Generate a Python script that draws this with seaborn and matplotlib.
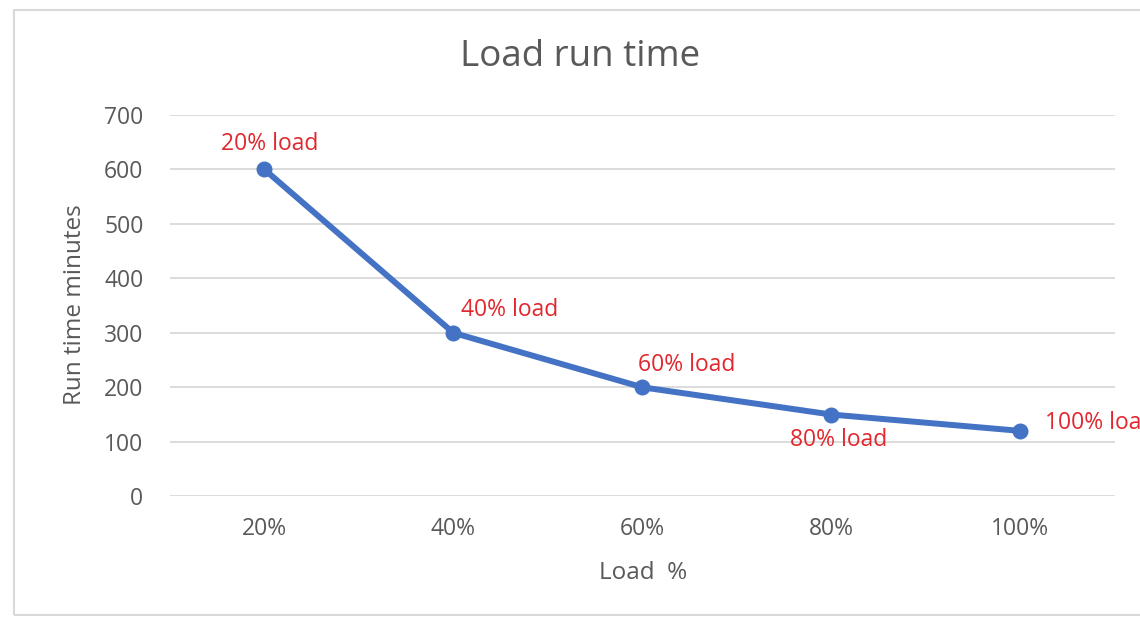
import numpy as np
import pandas as pd
import matplotlib.pyplot as plt
import seaborn as sns
from matplotlib.patches import Rectangle


# data
load_labels = ["20%", "40%", "60%", "80%", "100%"]
run_minutes = [600, 300, 200, 150, 120]
point_notes = ["20% load", "40% load", "60% load", "80% load", "100% load"]

# offsets in pixels for each note, and alignment
note_offsets = [(5, 25), (56, 23), (44, 22), (7, -25), (25, 8)]
note_align = ["center", "center", "center", "center", "left"]

LINE_COLOR = "#4472C4"
NOTE_COLOR = "#E0282E"
TEXT_COLOR = "#595959"
GRID_COLOR = "#D9D9D9"


def main():
    sns.set_theme(style="white")
    plt.rcParams["font.family"] = ["Open Sans", "DejaVu Sans"]

    df = pd.DataFrame({
        "pos": np.arange(len(load_labels)),
        "minutes": run_minutes,
    })

    fig = plt.figure(figsize=(11.4, 6.18), dpi=100)
    ax = fig.add_axes([0.149, 0.197, 0.829, 0.617])

    # chart border (right side runs off the image)
    fig.patches.append(Rectangle(
        (14 / 1140, 3 / 618), 1.2, 605 / 618,
        transform=fig.transFigure, fill=False,
        edgecolor=GRID_COLOR, linewidth=1.5, zorder=0
    ))

    sns.lineplot(
        data=df, x="pos", y="minutes", ax=ax,
        color=LINE_COLOR, linewidth=4.3,
        marker="o", markersize=11.5, markeredgewidth=0,
        zorder=3
    )

    for i, note in enumerate(point_notes):
        ax.annotate(
            note,
            xy=(df["pos"][i], df["minutes"][i]),
            xytext=note_offsets[i],
            textcoords="offset pixels",
            ha=note_align[i], va="center",
            color=NOTE_COLOR, fontsize=16.5,
            annotation_clip=False
        )

    ax.set_xlim(-0.5, len(load_labels) - 0.5)
    ax.set_ylim(0, 700)
    ax.set_xticks(df["pos"])
    ax.set_xticklabels(load_labels)
    ax.set_yticks(np.arange(0, 701, 100))

    ax.grid(axis="y", color=GRID_COLOR, linewidth=1.3)
    ax.set_axisbelow(True)
    for side in ["top", "right", "left", "bottom"]:
        ax.spines[side].set_visible(False)

    ax.tick_params(axis="both", length=0, labelsize=16.5, colors=TEXT_COLOR)
    ax.tick_params(axis="x", pad=15)
    ax.tick_params(axis="y", pad=19)

    fig.text(580 / 1140, 1 - 57 / 618, "Load run time", fontsize=26.5,
             color=TEXT_COLOR, ha="center", va="center")
    ax.set_xlabel("Load  %", fontsize=17.5, color=TEXT_COLOR)
    ax.set_ylabel("Run time minutes", fontsize=17.5, color=TEXT_COLOR)
    ax.xaxis.set_label_coords(643 / 1140, 1 - 573 / 618, transform=fig.transFigure)
    ax.yaxis.set_label_coords(75 / 1140, 1 - 305 / 618, transform=fig.transFigure)
    ax.xaxis.label.set_va("center")
    ax.yaxis.label.set_va("center")

    fig.savefig("out.png", dpi=100)


if __name__ == "__main__":
    main()
